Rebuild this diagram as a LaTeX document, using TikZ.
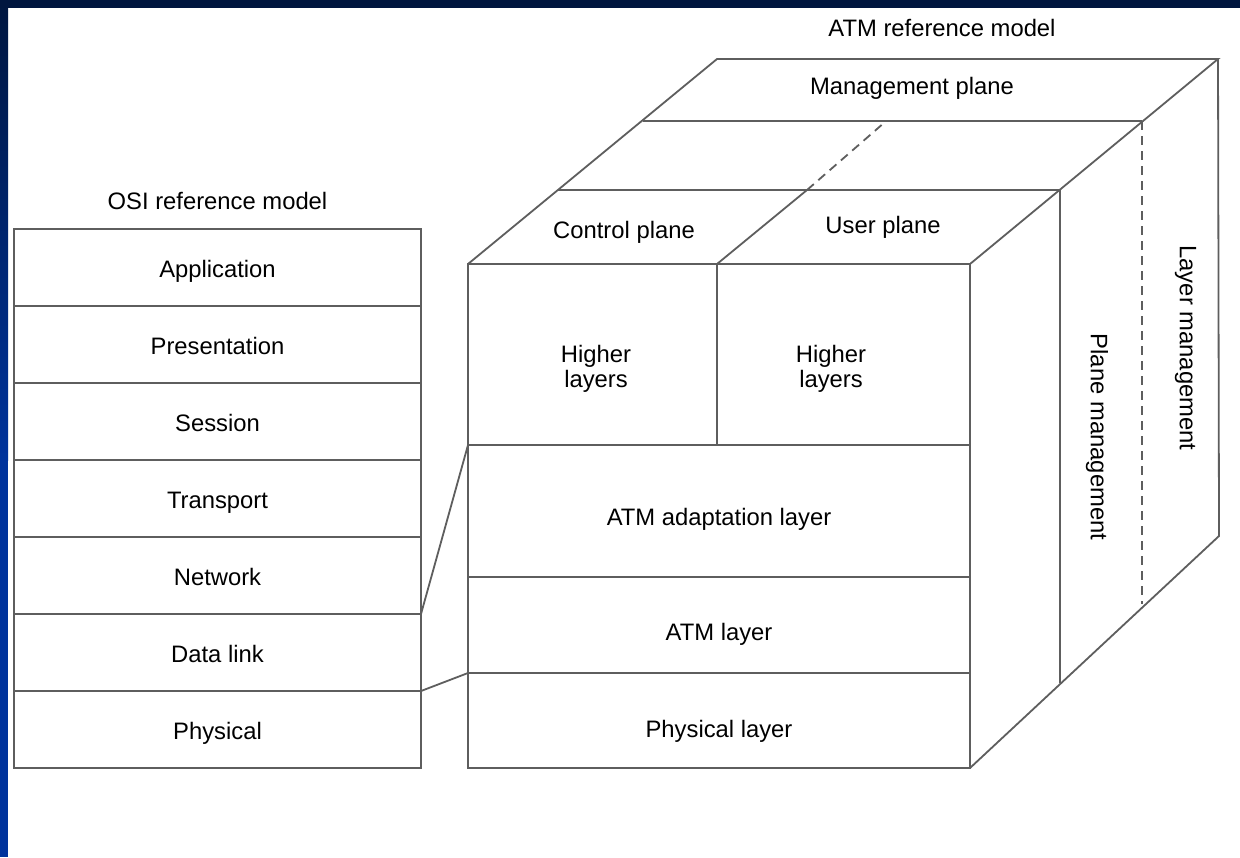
\documentclass[tikz,border=0pt]{standalone}
\usepackage{fontspec}
\setmainfont{Liberation Sans}
\usetikzlibrary{positioning}

\definecolor{framenavy}{HTML}{00163F}
\definecolor{frameblue}{HTML}{00339C}
\definecolor{linegray}{HTML}{5E5E5E}

\begin{document}
\begin{tikzpicture}[
  x=0.5pt, y=-0.5pt,
  font=\fontsize{11.9}{12.5}\selectfont,
  edge/.style={draw=linegray, line width=0.9pt},
  hidden/.style={edge, dash pattern=on 4.5pt off 3pt},
  osilayer/.style={edge, minimum width=203.5pt, minimum height=38.5pt, inner sep=0pt, outer sep=0pt, text height=1em, text depth=0pt},
  atmcell/.style={edge, inner sep=0pt, outer sep=0pt},
  lbl/.style={inner sep=0pt, align=center, text height=0.72em, text depth=0pt}
]
  \useasboundingbox (0,0) rectangle (1240,857);
  % slide frame
  \fill[white] (0,0) rectangle (1240,857);
  \shade[top color=framenavy, bottom color=frameblue] (0,0) rectangle (8,460);
  \fill[frameblue] (0,460) rectangle (8,857);
  \fill[framenavy] (0,0) rectangle (1240,7.5);

  % OSI stack
  \node[osilayer] (app) at (217.5,267.5) {Application};
  \node[osilayer, below=0pt of app] (pres) {Presentation};
  \node[osilayer, below=0pt of pres] (sess) {Session};
  \node[osilayer, below=0pt of sess] (trans) {Transport};
  \node[osilayer, below=0pt of trans] (net) {Network};
  \node[osilayer, below=0pt of net] (dlink) {Data link};
  \node[osilayer, below=0pt of dlink] (phys) {Physical};
  \node[lbl, above=9.5pt of app] (osititle) {OSI reference model};

  % ATM cube, front face
  \node[atmcell, minimum width=124.5pt, minimum height=90.5pt] (hlc) at (592.5,354.5) {};
  \node[atmcell, minimum width=126.5pt, minimum height=90.5pt, right=0pt of hlc] (hlu) {};
  \node[atmcell, minimum width=251pt, minimum height=66pt, anchor=north west] (aal) at (hlc.south west) {};
  \node[atmcell, minimum width=251pt, minimum height=48pt, below=0pt of aal] (atml) {};
  \node[atmcell, minimum width=251pt, minimum height=47.5pt, below=0pt of atml] (phyl) {};
  \node[lbl] (hlctext) at (596,380) {Higher\\layers};
  \node[lbl] (hlutext) at (831,380) {Higher\\layers};
  \node[lbl] (aaltext) at ([yshift=-3.5pt]aal.center) {ATM adaptation layer};
  \node[lbl] (atmltext) at ([yshift=-4pt]atml.center) {ATM layer};
  \node[lbl] (phyltext) at ([yshift=-5pt]phyl.center) {Physical layer};

  % top and side faces
  \coordinate (tfl) at (717,59);
  \coordinate (tfr) at (1218,59);
  \coordinate (mpl) at (643,121);
  \coordinate (mpr) at (1142,121);
  \coordinate (cpl) at (558,190);
  \coordinate (upr) at (1060,190);
  \coordinate (split) at (807,190);
  \coordinate (splitend) at (885,122);
  \coordinate (pmb) at (1060,683);
  \coordinate (lmb) at (1142,604);
  \coordinate (rb) at (1219,536);
  \draw[edge] (hlc.north west) -- (tfl) -- (tfr) -- (hlu.north east);
  \draw[edge] (mpl) -- (mpr);
  \draw[edge] (cpl) -- (upr);
  \draw[edge] (hlc.north east) -- (split);
  \draw[hidden] (split) -- (splitend);
  \draw[edge] (upr) -- (pmb);
  \draw[hidden] (mpr) -- (lmb);
  \draw[edge] (phyl.south east) -- (rb) -- (tfr);

  \node[lbl] (ctrl) at (624,231) {Control plane};
  \node[lbl] (user) at (883,226.5) {User plane};
  \node[lbl] (mgmt) at (912,87) {Management plane};
  \node[lbl, rotate=-90] (planemgmt) at (1098,437) {Plane management};
  \node[lbl, rotate=-90] (layermgmt) at (1187,348) {Layer management};
  \node[lbl] (atmtitle) at (942,29.5) {ATM reference model};

  % OSI to ATM
  \draw[edge] (net.south east) -- (aal.north west);
  \draw[edge] (dlink.south east) -- (phyl.north west);
\end{tikzpicture}
\end{document}
